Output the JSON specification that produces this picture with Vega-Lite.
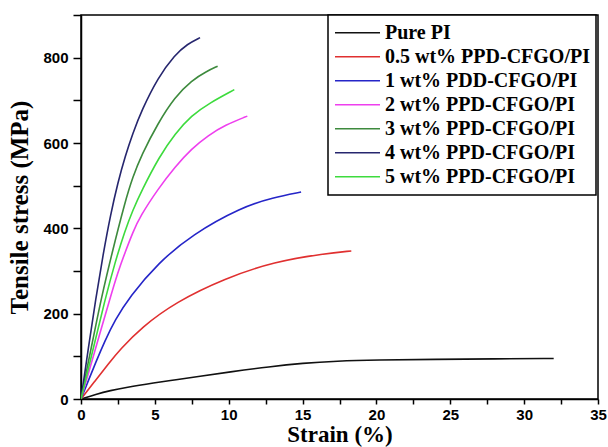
{
  "$schema": "https://vega.github.io/schema/vega-lite/v6.json",
  "width": 517,
  "height": 384,
  "autosize": {"type": "none"},
  "padding": {"left": 81, "top": 15, "right": 10, "bottom": 48},
  "background": "white",
  "config": {
    "view": {"stroke": "black", "strokeWidth": 1.5},
    "axis": {
      "domainColor": "black", "domainWidth": 1.5, "tickColor": "black", "tickWidth": 1.5,
      "grid": false, "labelFont": "Liberation Sans", "labelFontWeight": "bold", "labelFontSize": 15,
      "labelColor": "black", "titleFont": "Liberation Serif", "titleFontWeight": "bold",
      "titleColor": "black"
    },
    "legend": {
      "labelFont": "Liberation Serif", "labelFontWeight": "bold", "labelFontSize": 20, "labelColor": "black"
    }
  },
  "data": {
    "values": [
      {"s": "Pure PI", "x": 0, "y": 0}, {"s": "Pure PI", "x": 1, "y": 11}, {"s": "Pure PI", "x": 2, "y": 20},
      {"s": "Pure PI", "x": 3, "y": 27}, {"s": "Pure PI", "x": 5, "y": 38}, {"s": "Pure PI", "x": 6.4, "y": 45},
      {"s": "Pure PI", "x": 8, "y": 53}, {"s": "Pure PI", "x": 10, "y": 63}, {"s": "Pure PI", "x": 12.8, "y": 76},
      {"s": "Pure PI", "x": 15, "y": 84}, {"s": "Pure PI", "x": 17.3, "y": 89}, {"s": "Pure PI", "x": 20, "y": 91.5},
      {"s": "Pure PI", "x": 24, "y": 93}, {"s": "Pure PI", "x": 28, "y": 94}, {"s": "Pure PI", "x": 32, "y": 95},

      {"s": "0.5 wt% PPD-CFGO/PI", "x": 0, "y": 0}, {"s": "0.5 wt% PPD-CFGO/PI", "x": 0.95, "y": 42},
      {"s": "0.5 wt% PPD-CFGO/PI", "x": 1.84, "y": 82}, {"s": "0.5 wt% PPD-CFGO/PI", "x": 2.64, "y": 116},
      {"s": "0.5 wt% PPD-CFGO/PI", "x": 4.1, "y": 168}, {"s": "0.5 wt% PPD-CFGO/PI", "x": 6.4, "y": 227},
      {"s": "0.5 wt% PPD-CFGO/PI", "x": 9.75, "y": 283}, {"s": "0.5 wt% PPD-CFGO/PI", "x": 13.1, "y": 322},
      {"s": "0.5 wt% PPD-CFGO/PI", "x": 16.5, "y": 341}, {"s": "0.5 wt% PPD-CFGO/PI", "x": 18.3, "y": 347},

      {"s": "1 wt% PDD-CFGO/PI", "x": 0, "y": 0}, {"s": "1 wt% PDD-CFGO/PI", "x": 0.5, "y": 43},
      {"s": "1 wt% PDD-CFGO/PI", "x": 1, "y": 86}, {"s": "1 wt% PDD-CFGO/PI", "x": 1.6, "y": 135},
      {"s": "1 wt% PDD-CFGO/PI", "x": 2.3, "y": 185}, {"s": "1 wt% PDD-CFGO/PI", "x": 3.3, "y": 240},
      {"s": "1 wt% PDD-CFGO/PI", "x": 5.2, "y": 318}, {"s": "1 wt% PDD-CFGO/PI", "x": 7.5, "y": 385},
      {"s": "1 wt% PDD-CFGO/PI", "x": 10.9, "y": 450}, {"s": "1 wt% PDD-CFGO/PI", "x": 13, "y": 472},
      {"s": "1 wt% PDD-CFGO/PI", "x": 14.9, "y": 485},

      {"s": "2 wt% PPD-CFGO/PI", "x": 0, "y": 0}, {"s": "2 wt% PPD-CFGO/PI", "x": 0.6, "y": 72},
      {"s": "2 wt% PPD-CFGO/PI", "x": 1.29, "y": 155}, {"s": "2 wt% PPD-CFGO/PI", "x": 1.9, "y": 228},
      {"s": "2 wt% PPD-CFGO/PI", "x": 2.5, "y": 298}, {"s": "2 wt% PPD-CFGO/PI", "x": 3.0, "y": 345},
      {"s": "2 wt% PPD-CFGO/PI", "x": 3.5, "y": 390}, {"s": "2 wt% PPD-CFGO/PI", "x": 4.0, "y": 428},
      {"s": "2 wt% PPD-CFGO/PI", "x": 5.23, "y": 493}, {"s": "2 wt% PPD-CFGO/PI", "x": 6.36, "y": 544},
      {"s": "2 wt% PPD-CFGO/PI", "x": 7.5, "y": 587}, {"s": "2 wt% PPD-CFGO/PI", "x": 8.62, "y": 618},
      {"s": "2 wt% PPD-CFGO/PI", "x": 9.75, "y": 642}, {"s": "2 wt% PPD-CFGO/PI", "x": 11.26, "y": 663},

      {"s": "3 wt% PPD-CFGO/PI", "x": 0, "y": 0}, {"s": "3 wt% PPD-CFGO/PI", "x": 0.5, "y": 88},
      {"s": "3 wt% PPD-CFGO/PI", "x": 1, "y": 172}, {"s": "3 wt% PPD-CFGO/PI", "x": 1.35, "y": 232},
      {"s": "3 wt% PPD-CFGO/PI", "x": 2.08, "y": 340}, {"s": "3 wt% PPD-CFGO/PI", "x": 2.98, "y": 462},
      {"s": "3 wt% PPD-CFGO/PI", "x": 3.5, "y": 520}, {"s": "3 wt% PPD-CFGO/PI", "x": 4.1, "y": 572},
      {"s": "3 wt% PPD-CFGO/PI", "x": 5.2, "y": 646}, {"s": "3 wt% PPD-CFGO/PI", "x": 6.36, "y": 708},
      {"s": "3 wt% PPD-CFGO/PI", "x": 7.5, "y": 747}, {"s": "3 wt% PPD-CFGO/PI", "x": 8.5, "y": 768},
      {"s": "3 wt% PPD-CFGO/PI", "x": 9.25, "y": 780},

      {"s": "4 wt% PPD-CFGO/PI", "x": 0, "y": 0}, {"s": "4 wt% PPD-CFGO/PI", "x": 0.5, "y": 120},
      {"s": "4 wt% PPD-CFGO/PI", "x": 1, "y": 235}, {"s": "4 wt% PPD-CFGO/PI", "x": 1.5, "y": 340},
      {"s": "4 wt% PPD-CFGO/PI", "x": 2, "y": 432}, {"s": "4 wt% PPD-CFGO/PI", "x": 2.5, "y": 508},
      {"s": "4 wt% PPD-CFGO/PI", "x": 3, "y": 570}, {"s": "4 wt% PPD-CFGO/PI", "x": 3.5, "y": 622},
      {"s": "4 wt% PPD-CFGO/PI", "x": 4.1, "y": 676}, {"s": "4 wt% PPD-CFGO/PI", "x": 5.2, "y": 753},
      {"s": "4 wt% PPD-CFGO/PI", "x": 6.36, "y": 807}, {"s": "4 wt% PPD-CFGO/PI", "x": 7.2, "y": 832},
      {"s": "4 wt% PPD-CFGO/PI", "x": 8.06, "y": 847},

      {"s": "5 wt% PPD-CFGO/PI", "x": 0, "y": 0}, {"s": "5 wt% PPD-CFGO/PI", "x": 0.5, "y": 72},
      {"s": "5 wt% PPD-CFGO/PI", "x": 1, "y": 142}, {"s": "5 wt% PPD-CFGO/PI", "x": 1.62, "y": 232},
      {"s": "5 wt% PPD-CFGO/PI", "x": 2.3, "y": 320}, {"s": "5 wt% PPD-CFGO/PI", "x": 2.98, "y": 395},
      {"s": "5 wt% PPD-CFGO/PI", "x": 3.5, "y": 442}, {"s": "5 wt% PPD-CFGO/PI", "x": 4.1, "y": 488},
      {"s": "5 wt% PPD-CFGO/PI", "x": 5.3, "y": 568}, {"s": "5 wt% PPD-CFGO/PI", "x": 6.36, "y": 622},
      {"s": "5 wt% PPD-CFGO/PI", "x": 7.5, "y": 665}, {"s": "5 wt% PPD-CFGO/PI", "x": 8.62, "y": 692},
      {"s": "5 wt% PPD-CFGO/PI", "x": 10.38, "y": 725}
    ]
  },
  "mark": {"type": "line", "interpolate": "basis", "strokeWidth": 1.6, "clip": true},
  "encoding": {
    "x": {
      "field": "x", "type": "quantitative", "title": "Strain (%)",
      "scale": {"domain": [0, 35], "nice": false},
      "axis": {
        "values": [0, 2.5, 5, 7.5, 10, 12.5, 15, 17.5, 20, 22.5, 25, 27.5, 30, 32.5, 35],
        "labelExpr": "datum.value % 5 === 0 ? datum.label : ''",
        "tickSize": 5, "labelPadding": 3, "titlePadding": 1, "labelFlush": false,
        "titleFontSize": 23
      }
    },
    "y": {
      "field": "y", "type": "quantitative", "title": "Tensile stress (MPa)",
      "scale": {"domain": [0, 900], "nice": false},
      "axis": {
        "values": [0, 100, 200, 300, 400, 500, 600, 700, 800, 900],
        "labelExpr": "datum.value % 200 === 0 ? datum.label : ''",
        "tickSize": 8, "labelPadding": 5, "titlePadding": 10, "titleFontSize": 25
      }
    },
    "color": {
      "field": "s", "type": "nominal", "sort": null,
      "scale": {
        "domain": ["Pure PI", "0.5 wt% PPD-CFGO/PI", "1 wt% PDD-CFGO/PI", "2 wt% PPD-CFGO/PI", "3 wt% PPD-CFGO/PI", "4 wt% PPD-CFGO/PI", "5 wt% PPD-CFGO/PI"],
        "range": ["#111111", "#e03030", "#2525c8", "#ee3fee", "#3d8a3d", "#26266e", "#3ddb3d"]
      },
      "legend": {
        "title": null, "orient": "none", "legendX": 247, "legendY": 0,
        "symbolType": "stroke", "symbolSize": 2025, "symbolStrokeWidth": 1.6,
        "labelOffset": 4, "padding": 6, "rowPadding": 0, "clipHeight": 23.6, "labelLimit": 400,
        "strokeColor": "black", "fillColor": "white",
        "encode": {"legend": {"update": {"strokeWidth": {"value": 1.5}}}}
      }
    }
  }
}
